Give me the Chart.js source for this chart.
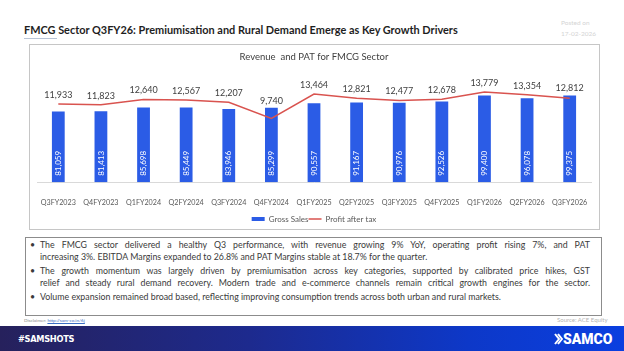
<!DOCTYPE html>
<html>
<head>
<meta charset="utf-8">
<title>FMCG Sector Q3FY26</title>
<script src="https://cdn.jsdelivr.net/npm/chart.js"></script>
<style>
    body {
        margin: 0;
        padding: 0;
        width: 624px;
        height: 351px;
        position: relative;
        overflow: hidden;
        background: #fff;
        font-family: Lato, "Open Sans", sans-serif;
    }
    .abs { position: absolute; white-space: nowrap; }

    #title { left: 24px; top: 22px; font-weight: 700; font-size: 12.4px; line-height: 16px; color: #1e1e1e; }
    #titleLine { left: 24px; top: 38px; width: 33px; height: 1px; background: #b8c4d6; }
    #posted { left: 561px; top: 17px; font-size: 6.5px; line-height: 11px; color: #d4d4d4; }

    #chartBox {
        position: absolute; left: 29px; top: 44px;
        width: 569px; height: 184px;
        border: 1px solid #c6c6c6;
    }
    #chartWrap {
        position: absolute; left: 30px; top: 45px;
        width: 569px; height: 188px;
    }

    #textBox {
        position: absolute; left: 25px; top: 237px;
        width: 575px; height: 77px;
        border: 1px solid #8c8c8c;
    }
    .line { position: absolute; left: 40px; width: 550px; font-size: 8.8px; line-height: 12px; color: #3a3a3a; white-space: nowrap; }
    .just { text-align: justify; text-align-last: justify; white-space: normal; }
    .bullet { position: absolute; left: 30px; font-size: 8.8px; line-height: 12px; color: #3a3a3a; }

    #disc { left: 24px; top: 317px; font-size: 4.6px; color: #8a8a8a; }
    #disc a { color: #3b6fc4; text-decoration: underline; }
    #source { left: 557px; top: 316px; font-size: 6px; color: #b4b4b4; }

    #banner {
        position: absolute; left: 0; top: 326px; width: 624px; height: 25px;
        background: linear-gradient(to right, #26215c 0%, #1d2a8e 40%, #0d38c8 75%, #0a3fe0 100%);
    }
    #tag { left: 18px; top: 331px; font-family: "DejaVu Sans Condensed", "Liberation Sans Narrow", sans-serif; font-weight: 700; font-size: 14px; line-height: 16px; color: #fff; letter-spacing: -0.3px; }
    #logo { left: 554px; top: 331px; font-family: Roboto, Inter, sans-serif; font-weight: 900; font-size: 14px; line-height: 16px; color: #fff; }
</style>
</head>
<body>

<div id="title" class="abs" data-fit="434">FMCG Sector Q3FY26: Premiumisation and Rural Demand Emerge as Key Growth Drivers</div>
<div id="titleLine" class="abs"></div>
<div id="posted" class="abs">Posted on<br>17-02-2026</div>

<div id="chartBox"></div>
<div id="chartWrap">
    <canvas id="fmcgChart"></canvas>
</div>

<div class="bullet abs" style="top:239px">•</div>
<div class="line just" style="top:239px">The FMCG sector delivered a healthy Q3 performance, with revenue growing 9% YoY, operating profit rising 7%, and PAT</div>
<div class="line" style="top:251px">increasing 3%. EBITDA Margins expanded to 26.8% and PAT Margins stable at 18.7% for the quarter.</div>
<div class="bullet abs" style="top:265px">•</div>
<div class="line just" style="top:265px">The growth momentum was largely driven by premiumisation across key categories, supported by calibrated price hikes, GST</div>
<div class="line just" style="top:277px">relief and steady rural demand recovery. Modern trade and e-commerce channels remain critical growth engines for the sector.</div>
<div class="bullet abs" style="top:291px">•</div>
<div class="line" style="top:291px">Volume expansion remained broad based, reflecting improving consumption trends across both urban and rural markets.</div>
<div id="textBox"></div>

<div id="disc" class="abs">Disclaimer: <a>http://sam-co.in/6j</a></div>
<div id="source" class="abs">Source: ACE Equity</div>

<div id="banner"></div>
<div id="tag" class="abs" data-fit="57">#SAMSHOTS</div>
<div id="logo" class="abs">
    <svg width="9" height="12" viewBox="0 0 9 12" style="vertical-align:-1px"><path d="M1 1 L5 6 L1 11 M4 1 L8 6 L4 11" stroke="#fff" stroke-width="2" fill="none"/></svg>SAMCO
</div>

<script>
    // data
    var quarters = ['Q3FY2023', 'Q4FY2023', 'Q1FY2024', 'Q2FY2024', 'Q3FY2024', 'Q4FY2024', 'Q1FY2025',
                    'Q2FY2025', 'Q3FY2025', 'Q4FY2025', 'Q1FY2026', 'Q2FY2026', 'Q3FY2026'];
    var grossSales = [81059, 81413, 85698, 85449, 83946, 85299, 90557, 91167, 90976, 92526, 99400, 96078, 99375];
    var profitAfterTax = [11933, 11823, 12640, 12567, 12207, 9740, 13464, 12821, 12477, 12678, 13779, 13354, 12812];

    // shrink/stretch a few header texts to their width in the picture
    document.querySelectorAll('[data-fit]').forEach(function (el) {
        var target = parseFloat(el.dataset.fit);
        var size = parseFloat(getComputedStyle(el).fontSize);
        el.style.fontSize = (size * target / el.offsetWidth) + 'px';
    });

    function fmt(v) { return v.toLocaleString('en-US'); }

    // value labels: white rotated ones inside the bars, dark ones over the PAT line
    var valueLabels = {
        id: 'valueLabels',
        afterDatasetsDraw: function (chart) {
            var ctx = chart.ctx;
            var bars = chart.getDatasetMeta(0).data;
            var points = chart.getDatasetMeta(1).data;
            ctx.save();
            ctx.textAlign = 'center';
            ctx.textBaseline = 'middle';
            ctx.font = '8px Lato';
            ctx.fillStyle = '#ffffff';
            bars.forEach(function (bar, i) {
                ctx.save();
                ctx.translate(bar.x, bar.base - 19);
                ctx.rotate(-Math.PI / 2);
                ctx.fillText(fmt(grossSales[i]), 0, 0);
                ctx.restore();
            });
            ctx.font = '9px Lato';
            ctx.fillStyle = '#404040';
            points.forEach(function (pt, i) {
                var y = Math.min(pt.y - 9, bars[i].y - 7);
                ctx.fillText(fmt(profitAfterTax[i]), pt.x, y);
            });
            ctx.restore();
        }
    };

    var ctx = document.getElementById('fmcgChart').getContext('2d');
    var chart = new Chart(ctx, {
        type: 'bar',
        data: {
            labels: quarters,
            datasets: [{
                type: 'bar',
                label: 'Gross Sales',
                data: grossSales,
                backgroundColor: '#2b5ce6',
                yAxisID: 'y',
                order: 1,
                pointStyle: 'rect',
                categoryPercentage: 1,
                barPercentage: 0.3
            }, {
                type: 'line',
                label: 'Profit after tax',
                data: profitAfterTax,
                borderColor: '#d9534f',
                backgroundColor: '#d9534f',
                borderWidth: 1.5,
                pointRadius: 0,
                tension: 0,
                yAxisID: 'y1',
                order: 0,
                pointStyle: 'line'
            }]
        },
        options: {
            responsive: true,
            maintainAspectRatio: false,
            animation: false,
            layout: { padding: { left: 7, right: 8, top: 0, bottom: 0 } },
            scales: {
                x: {
                    grid: { display: false },
                    border: { display: true, color: '#d9d9d9' },
                    ticks: { font: { family: 'Lato', size: 7.2 }, color: '#595959', maxRotation: 0, autoSkip: false, padding: 8 }
                },
                y: { display: false, min: 0, max: 120000 },
                y1: { display: false, position: 'right', min: 0, max: 16000 }
            },
            plugins: {
                title: {
                    display: true,
                    text: 'Revenue  and PAT for FMCG Sector',
                    font: { family: 'Lato', size: 9.5, weight: 'normal' },
                    color: '#404040',
                    padding: { top: 6, bottom: 15 }
                },
                legend: {
                    position: 'bottom',
                    labels: {
                        usePointStyle: true,
                        pointStyleWidth: 13,
                        boxHeight: 4,
                        font: { family: 'Lato', size: 8 },
                        color: '#595959',
                        padding: 0,
                        sort: function (a, b) { return a.datasetIndex - b.datasetIndex; }
                    }
                },
                tooltip: { enabled: false }
            }
        },
        plugins: [valueLabels]
    });
</script>

</body>
</html>
